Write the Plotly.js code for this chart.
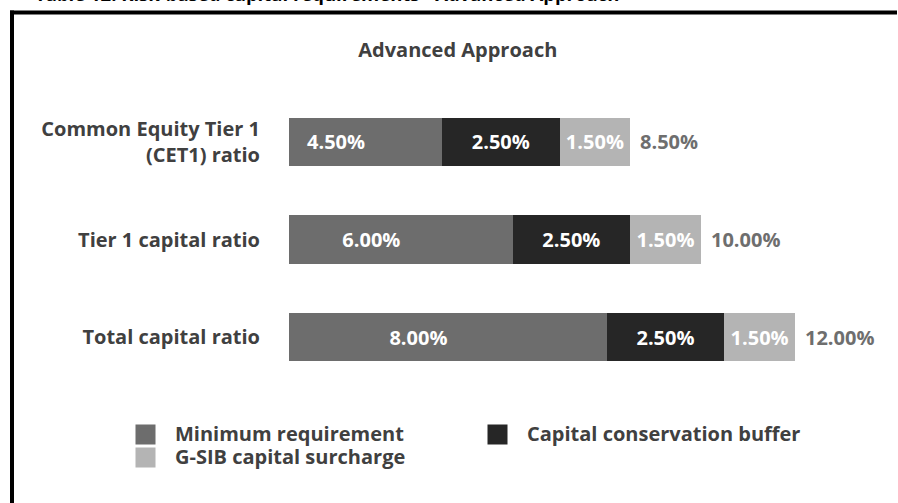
<!DOCTYPE html>
<html><head><meta charset="utf-8">
<script src="https://cdn.plot.ly/plotly-3.0.1.min.js"></script>
<style>html,body{margin:0;padding:0;background:#fff;overflow:hidden}#chart{width:898px;height:503px;overflow:hidden}</style>
</head><body><div id="chart"></div>
<script>
// ---- data ----
const categories = ["Common Equity Tier 1<br>(CET1) ratio", "Tier 1 capital ratio", "Total capital ratio"];
const seriesNames = ["Minimum requirement", "Capital conservation buffer", "G-SIB capital surcharge"];
const minimumRequirement = [4.50, 6.00, 8.00];
const conservationBuffer = [2.50, 2.50, 2.50];
const gsibSurcharge = [1.50, 1.50, 1.50];
const seriesColors = ["#6d6d6d", "#262626", "#b4b4b4"];
const chartTitle = "Advanced Approach";
const pageHeading = "Table 12: Risk-based capital requirements - Advanced Approach";

// ---- layout constants ----
const W = 898, H = 503;
const M = {l: 289, r: 9, t: 93, b: 117};
const PW = W - M.l - M.r, PH = H - M.t - M.b;
const px2x = px => (px - M.l) / PW;
const py2y = py => (H - M.b - py) / PH;
const FONT = "Open Sans";
const fmt = v => v.toFixed(2) + "%";

const seriesValues = [minimumRequirement, conservationBuffer, gsibSurcharge];
const totals = categories.map((c, i) => seriesValues.reduce((s, arr) => s + arr[i], 0));

const traces = seriesValues.map((vals, k) => ({
  type: "bar", orientation: "h",
  name: seriesNames[k],
  y: categories, x: vals,
  marker: {color: seriesColors[k], line: {width: 0}},
  text: vals.map(fmt), textposition: "inside", insidetextanchor: "middle",
  textangle: 0, constraintext: "none",
  textfont: {family: FONT, size: 20, weight: 700, color: "#ffffff"},
  hoverinfo: "skip", showlegend: false, cliponaxis: true
}));

// legend entries (larger square swatches)
seriesNames.forEach((n, k) => traces.push({
  type: "scatter", mode: "markers",
  name: '<span style="font-size:20px">' + n + '</span>',
  x: [null], y: [null],
  marker: {symbol: "square", size: 16, color: seriesColors[k], line: {width: 4, color: seriesColors[k]}},
  showlegend: true, hoverinfo: "skip"
}));

const annotations = categories.map((c, i) => ({
  x: totals[i], y: c, xref: "x", yref: "y",
  text: fmt(totals[i]), showarrow: false, xanchor: "left", yanchor: "middle", xshift: 8,
  font: {family: FONT, size: 20, weight: 700, color: "#6e6e6e"}
}));
annotations.push({
  x: px2x(33), y: py2y(-7), xref: "paper", yref: "paper",
  text: pageHeading, showarrow: false, xanchor: "left", yanchor: "middle",
  font: {family: FONT, size: 18.5, weight: 700, color: "#000000"}
});

const lineStyle = {color: "#000000", width: 4};
const layout = {
  width: W, height: H,
  margin: {l: M.l, r: M.r, t: M.t, b: M.b, pad: 0, autoexpand: false},
  paper_bgcolor: "#ffffff", plot_bgcolor: "#ffffff",
  barmode: "stack", bargap: 0.508,
  title: {text: chartTitle, x: 457.8 / W, xref: "container", xanchor: "center",
          y: 1 - 49.5 / H, yref: "container", yanchor: "middle",
          font: {family: FONT, size: 20, weight: 700, color: "#404040"}},
  xaxis: {range: [1.25, 14], showgrid: false, zeroline: false, showticklabels: false,
          showline: false, ticks: "", fixedrange: true},
  yaxis: {type: "category", categoryorder: "array", categoryarray: categories,
          autorange: "reversed", showgrid: false, zeroline: false, showline: false,
          ticks: "", ticklabelstandoff: 28,
          tickfont: {family: FONT, size: 20, weight: 700, color: "#404040"}, fixedrange: true},
  showlegend: true,
  legend: {orientation: "h", x: px2x(116), xanchor: "left", y: py2y(418), yanchor: "top",
           itemwidth: 49, entrywidth: 288, entrywidthmode: "pixels",
           font: {family: FONT, size: 15.4, weight: 700, color: "#404040"},
           bgcolor: "rgba(0,0,0,0)", borderwidth: 0, traceorder: "normal", itemclick: false, itemdoubleclick: false},
  annotations: annotations,
  shapes: [
    {type: "line", xref: "paper", yref: "paper", x0: px2x(10), x1: px2x(W - 1), y0: py2y(12.5), y1: py2y(12.5), line: lineStyle, layer: "above"},
    {type: "line", xref: "paper", yref: "paper", x0: px2x(12), x1: px2x(12), y0: py2y(10.5), y1: py2y(H), line: lineStyle, layer: "above"}
  ]
};

Plotly.newPlot("chart", traces, layout, {displayModeBar: false, staticPlot: true});
</script></body></html>
